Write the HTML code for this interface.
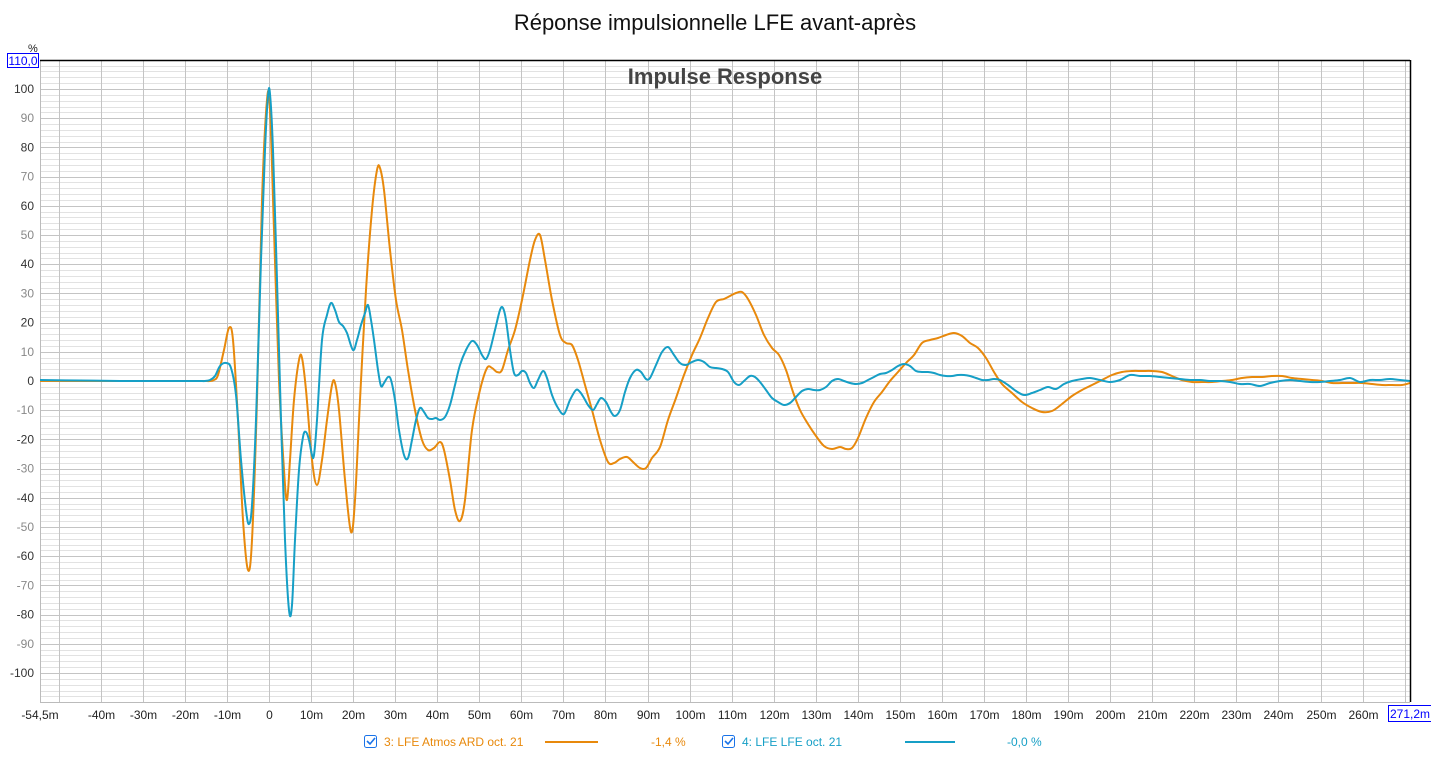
<!DOCTYPE html>
<html><head><meta charset="utf-8"><style>
body{margin:0;background:#fff;width:1431px;height:754px;overflow:hidden;font-family:"Liberation Sans",sans-serif}
</style></head><body>
<svg id="s" width="1431" height="754" xmlns="http://www.w3.org/2000/svg" font-family="Liberation Sans, sans-serif">
<text x="715" y="30" font-size="22" text-anchor="middle" fill="#111">Réponse impulsionnelle LFE avant-après</text>
<g id="grid"></g>
<text x="725" y="84" font-size="22" font-weight="bold" text-anchor="middle" fill="#444">Impulse Response</text>
<path id="po" fill="none" stroke="#E8890C" stroke-width="2"/>
<path id="pb" fill="none" stroke="#169FC6" stroke-width="2"/>
<line x1="40" y1="60.5" x2="1410" y2="60.5" stroke="#000" stroke-width="1.5"/>
<line x1="1410.5" y1="60" x2="1410.5" y2="702" stroke="#000" stroke-width="1.5"/>
<text x="28" y="52" font-size="11" fill="#222">%</text>
<rect x="7.5" y="53.5" width="31" height="14" fill="#fff" stroke="#00f"/>
<text x="23" y="65" font-size="12" fill="#00f" text-anchor="middle">110,0</text>
<rect x="1388.5" y="705.5" width="43" height="16" fill="#fff" stroke="#00f"/>
<text x="1410" y="718" font-size="12" fill="#00f" text-anchor="middle">271,2m</text>
<g font-size="12">
<rect x="364.5" y="735.5" width="12" height="12" rx="2" fill="#fff" stroke="#1a73e8"/>
<path d="M367 741 l3 3 l5 -6" stroke="#1a73e8" fill="none" stroke-width="1.6"/>
<text x="384" y="746" fill="#E8890C">3: LFE Atmos ARD oct. 21</text>
<line x1="545" y1="742" x2="598" y2="742" stroke="#E8890C" stroke-width="2"/>
<text x="651" y="746" fill="#E8890C">-1,4 %</text>
<rect x="722.5" y="735.5" width="12" height="12" rx="2" fill="#fff" stroke="#1a73e8"/>
<path d="M725 741 l3 3 l5 -6" stroke="#1a73e8" fill="none" stroke-width="1.6"/>
<text x="742" y="746" fill="#169FC6">4: LFE LFE oct. 21</text>
<line x1="905" y1="742" x2="955" y2="742" stroke="#169FC6" stroke-width="2"/>
<text x="1007" y="746" fill="#169FC6">-0,0 %</text>
</g>
</svg>
<script>
var g=document.getElementById("grid"),h="";
function Y(v){return 381-v*2.92}
for(var v=-110;v<=110;v+=2){var y=Y(v);var maj=(v%10==0);
 h+='<line x1="40" x2="1410" y1="'+(Math.round(y)+.5)+'" y2="'+(Math.round(y)+.5)+'" stroke="'+(maj?'#c4c4c4':'#e2e2e2')+'"/>';
 if(maj&&v>=-100&&v<=100){h+='<text x="34" y="'+(y+4)+'" font-size="12" text-anchor="end" fill="'+((v/10)%2==0?'#333':'#888')+'">'+v+'</text>';}}
function X(t){return 269+t*4.206}
for(var t=-50;t<=270;t+=10){var x=Math.round(X(t))+.5;
 h+='<line x1="'+x+'" x2="'+x+'" y1="60" y2="702" stroke="#c4c4c4"/>';
 if(t>=-40&&t<=260)h+='<text x="'+x+'" y="719" font-size="12" text-anchor="middle" fill="#222">'+(t==0?'0':t+'m')+'</text>';}
h+='<text x="40" y="719" font-size="12" text-anchor="middle" fill="#222">-54,5m</text>';
h+='<line x1="40.5" x2="40.5" y1="60" y2="702" stroke="#bbb"/><line x1="40" x2="1410" y1="702.5" y2="702.5" stroke="#bbb"/>';
g.innerHTML=h;
function cr(p){var d="M"+p[0][0]+","+p[0][1];for(var i=0;i<p.length-1;i++){var a=p[Math.max(0,i-1)],b=p[i],c=p[i+1],e=p[Math.min(p.length-1,i+2)];
d+=" C"+(b[0]+(c[0]-a[0])/6)+","+(b[1]+(c[1]-a[1])/6)+" "+(c[0]-(e[0]-b[0])/6)+","+(c[1]-(e[1]-b[1])/6)+" "+c[0]+","+c[1];}return d}
var O=[[40,381],[80,381],[120,381],[160,381],[190,381],[200,381],[205,381],[210,381],[214,380],[218,375],[224,350],[229,328],[233,340],[238,420],[243,520],[248,570],[252,540],[257,400],[262,200],[267,100],[270,110],[274,230],[279,380],[284,470],[287,500],[290,460],[294,400],[299,360],[302,358],[306,390],[312,460],[317,485],[322,460],[327,420],[332,385],[335,383],[339,410],[345,480],[351,532],[355,500],[360,400],[366,290],[372,210],[377,170],[380,168],[384,190],[390,250],[396,300],[402,330],[408,370],[415,410],[422,440],[428,450],[434,448],[440,442],[444,450],[450,480],[455,510],[460,521],[465,500],[472,430],[480,390],[487,368],[492,368],[497,372],[502,370],[508,350],[515,330],[522,300],[530,260],[535,240],[540,235],[545,260],[552,300],[560,335],[566,343],[572,345],[578,360],[585,385],[592,410],[600,440],[608,462],[614,463],[620,459],[627,457],[633,462],[640,468],[646,468],[652,458],[660,447],[668,420],[676,398],[684,375],[692,355],[700,338],[708,318],[716,302],[724,299],[730,296],[736,293],[742,292],[748,299],[756,315],[764,335],[772,348],[779,355],[786,370],[793,392],[800,410],[808,424],[816,436],[824,446],[832,449],[840,447],[846,449],[852,448],[858,438],[866,418],[874,402],[882,392],[890,381],[898,372],[906,363],[914,355],[922,343],[930,340],[938,338],[946,335],[954,333],[962,336],[970,343],[978,348],[986,358],[994,372],[1002,384],[1012,393],[1022,402],[1032,408],[1042,412],[1052,411],[1062,404],[1072,396],[1082,390],[1092,385],[1102,380],[1112,375],[1122,372],[1132,371],[1142,371],[1152,371],[1162,372],[1172,376],[1182,380],[1192,382],[1202,382],[1212,382],[1222,381],[1232,380],[1242,378],[1252,377],[1262,377],[1272,376],[1282,376],[1292,378],[1302,379],[1312,380],[1322,381],[1332,383],[1342,383],[1352,383],[1362,383],[1372,384],[1382,385],[1392,385],[1402,385],[1410,383]];
var B=[[40,380],[80,380.5],[120,381],[160,381],[190,381],[200,381],[205,381],[210,380],[215,376],[220,366],[226,363],[231,368],[236,395],[241,460],[246,510],[249,524],[252,505],[256,420],[261,260],[265,150],[268,96],[270,94],[273,150],[277,280],[281,420],[285,540],[289,610],[292,605],[295,540],[299,470],[303,437],[306,432],[309,440],[312,455],[314,455],[317,420],[322,340],[327,315],[331,303],[335,310],[339,322],[343,326],[347,333],[353,350],[357,340],[361,325],[365,313],[368,305],[371,320],[374,340],[378,370],[381,386],[384,383],[388,377],[391,380],[395,400],[399,430],[404,455],[408,458],[412,440],[416,420],[420,408],[424,412],[428,418],[432,419],[436,418],[440,420],[445,417],[450,405],[455,385],[460,365],[466,350],[472,341],[477,345],[482,355],[486,359],[490,350],[495,330],[500,310],[503,308],[506,320],[510,350],[514,373],[518,375],[522,371],[526,373],[530,383],[534,388],[538,380],[543,371],[547,378],[552,395],[558,408],[564,414],[570,400],[576,390],[580,392],[584,398],[588,405],[593,410],[597,404],[601,398],[606,402],[611,412],[615,416],[620,410],[625,392],[630,378],[636,370],[641,372],[646,379],[650,378],[656,365],[662,352],[668,347],[674,355],[680,363],[686,365],[692,362],[698,360],[704,362],[710,367],[716,368],[722,369],[728,372],[734,382],[739,385],[744,381],[750,376],[755,377],[760,382],[766,390],[772,398],[778,402],[784,405],[790,403],[796,397],[802,391],[808,389],[814,390],[820,390],[826,387],[832,381],[838,379],[844,381],[850,383],[856,384],[862,383],[868,380],[874,377],[880,374],[886,373],[892,370],[898,366],[904,364],[910,366],[916,371],[922,372],[928,372],[934,373],[940,375],[946,376],[952,376],[958,375],[964,375],[970,376],[976,378],[982,380],[988,380],[994,379],[1000,380],[1008,385],[1016,391],[1024,395],[1032,393],[1040,390],[1048,387],[1056,389],[1064,384],[1072,381],[1082,379],[1090,378],[1100,380],[1110,382],[1120,380],[1130,375],[1140,376],[1150,376],[1160,377],[1170,378],[1180,379],[1190,380],[1200,380],[1210,381],[1220,381],[1230,382],[1240,384],[1250,384],[1260,386],[1270,383],[1280,381],[1290,380],[1300,381],[1310,382],[1320,382],[1330,381],[1340,380],[1350,378],[1360,382],[1370,380],[1380,380],[1390,379],[1400,380],[1410,381]];
document.getElementById("po").setAttribute("d",cr(O));
document.getElementById("pb").setAttribute("d",cr(B));
</script>
</body></html>
